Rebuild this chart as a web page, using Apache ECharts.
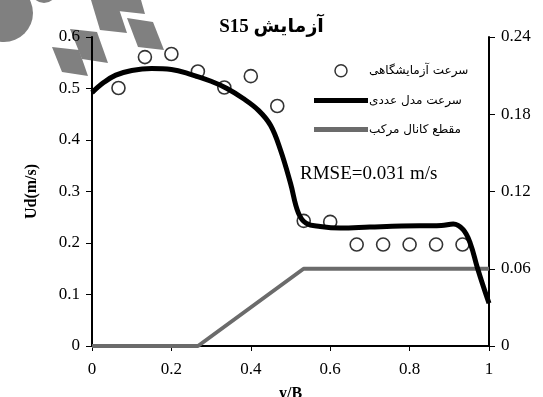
<!DOCTYPE html>
<html>
<head>
<meta charset="utf-8">
<script src="https://cdn.jsdelivr.net/npm/echarts@6/dist/echarts.min.js"></script>
<style>
  html, body { margin: 0; padding: 0; background: #fff; }
  #chart { width: 543px; height: 397px; }
</style>
</head>
<body>
<div id="chart"></div>
<script>
// سرعت آزمایشگاهی (experimental points)
const expX = [0.0667, 0.1333, 0.2, 0.2667, 0.3333, 0.4, 0.4667, 0.5333, 0.6, 0.6667, 0.7333, 0.8, 0.8667, 0.9333]
const expY = [0.501, 0.561, 0.567, 0.533, 0.502, 0.524, 0.466, 0.243, 0.241, 0.197, 0.197, 0.197, 0.197, 0.197]

// سرعت مدل عددی (model curve)
const modelX = [0, 0.03, 0.06, 0.1, 0.15, 0.2, 0.25, 0.3, 0.34, 0.38, 0.42, 0.45, 0.475, 0.5, 0.52, 0.54, 0.575, 0.625, 0.7, 0.78, 0.88, 0.91, 0.935, 0.953, 0.97, 0.986, 1]
const modelY = [0.492, 0.512, 0.526, 0.535, 0.539, 0.537, 0.527, 0.514, 0.5, 0.481, 0.457, 0.428, 0.38, 0.316, 0.258, 0.238, 0.232, 0.229, 0.231, 0.233, 0.234, 0.237, 0.226, 0.199, 0.154, 0.115, 0.083]

// مقطع کانال مرکب (channel section, right axis)
const sectionX = [0, 0.267, 0.533, 1]
const sectionY = [0, 0, 0.06, 0.06]

const names = ['سرعت آزمایشگاهی', 'سرعت مدل عددی', 'مقطع کانال مرکب']

const serif = "'Liberation Serif', 'DejaVu Sans', serif"
const zip = (xs, ys) => xs.map((x, i) => [x, ys[i]])
const bar = 'path://M0,0h54v5h-54z' // legend line icon

// watermark in the corner
const wm = [
  [[70, 29], [97, 32], [108, 63], [82, 59]],
  [[52, 47], [79, 50], [88, 76], [62, 72]],
  [[91, 0], [116, 0], [127, 33], [100, 30]],
  [[127, 18], [153, 22], [164, 50], [138, 47]],
  [[114, 0], [141, 0], [145, 14], [118, 11]]
]

const myChart = echarts.init(document.getElementById('chart'))
myChart.setOption({
  animation: false,
  textStyle: { fontFamily: serif },
  title: {
    text: 'S15 آزمایش',
    left: 'center',
    top: 13,
    textStyle: { fontFamily: serif, fontSize: 19, fontWeight: 'bold', color: '#000' }
  },
  graphic: [
    { type: 'circle', shape: { cx: 4, cy: 13, r: 29 }, style: { fill: '#808080' }, z: -10 },
    { type: 'circle', shape: { cx: 44, cy: -10, r: 13 }, style: { fill: '#808080' }, z: -10 }
  ].concat(wm.map(p => ({ type: 'polygon', shape: { points: p }, style: { fill: '#808080' }, z: -10 }))).concat([
    {
      type: 'text',
      left: 300,
      top: 165,
      style: { text: 'RMSE=0.031 m/s', fontFamily: serif, fontSize: 19, fill: '#000' }
    }
  ]),
  legend: {
    orient: 'vertical',
    left: 314,
    top: 64,
    padding: 0,
    itemWidth: 54,
    itemHeight: 12,
    itemGap: 17,
    data: [
      { name: names[0], icon: 'circle', itemStyle: { color: '#fff', borderColor: '#000', borderWidth: 1.5 } },
      { name: names[1], icon: bar, itemStyle: { color: '#000', borderWidth: 0 } },
      { name: names[2], icon: bar, itemStyle: { color: '#6b6b6b', borderWidth: 0 } }
    ],
    textStyle: { fontFamily: "'DejaVu Sans', sans-serif", fontSize: 12, color: '#000', padding: [0, 0, 0, -4] }
  },
  grid: { left: 92, right: 54, top: 37, bottom: 51, outerBoundsMode: 'none' },
  xAxis: {
    type: 'value',
    min: 0,
    max: 1,
    interval: 0.2,
    name: 'y/B',
    nameLocation: 'middle',
    nameGap: 40,
    nameTextStyle: { fontFamily: serif, fontSize: 16, fontWeight: 'bold', color: '#000' },
    axisLine: { onZero: false, lineStyle: { color: '#000', width: 2 } },
    axisTick: { length: 5, lineStyle: { color: '#000', width: 1 } },
    axisLabel: { margin: 15, fontSize: 17, color: '#000', fontFamily: serif },
    splitLine: { show: false }
  },
  yAxis: [
    {
      type: 'value',
      min: 0,
      max: 0.6,
      interval: 0.1,
      name: 'Ud(m/s)',
      nameLocation: 'middle',
      nameGap: 52,
      nameRotate: 90,
      nameTextStyle: { fontFamily: serif, fontSize: 16, fontWeight: 'bold', color: '#000' },
      axisLine: { show: true, lineStyle: { color: '#000', width: 2 } },
      axisTick: { show: true, length: 6, lineStyle: { color: '#000', width: 1 } },
      axisLabel: { margin: 12, fontSize: 17, color: '#000', fontFamily: serif },
      splitLine: { show: false }
    },
    {
      type: 'value',
      min: 0,
      max: 0.24,
      interval: 0.06,
      position: 'right',
      axisLine: { show: true, lineStyle: { color: '#000', width: 2 } },
      axisTick: { show: true, length: 6, lineStyle: { color: '#000', width: 1 } },
      axisLabel: { margin: 12, fontSize: 17, color: '#000', fontFamily: serif },
      splitLine: { show: false }
    }
  ],
  series: [
    {
      name: names[2],
      type: 'line',
      yAxisIndex: 1,
      data: zip(sectionX, sectionY),
      symbol: 'none',
      lineStyle: { color: '#6b6b6b', width: 4 },
      itemStyle: { color: '#6b6b6b' },
      z: 3
    },
    {
      name: names[1],
      type: 'line',
      data: zip(modelX, modelY),
      smooth: 0.4,
      symbol: 'none',
      lineStyle: { color: '#000', width: 5 },
      itemStyle: { color: '#000' },
      z: 4
    },
    {
      name: names[0],
      type: 'scatter',
      data: zip(expX, expY),
      symbol: 'circle',
      symbolSize: 13,
      itemStyle: { color: 'rgba(255,255,255,0)', borderColor: '#000', borderWidth: 1.6 },
      z: 5
    }
  ]
})
</script>
</body>
</html>
